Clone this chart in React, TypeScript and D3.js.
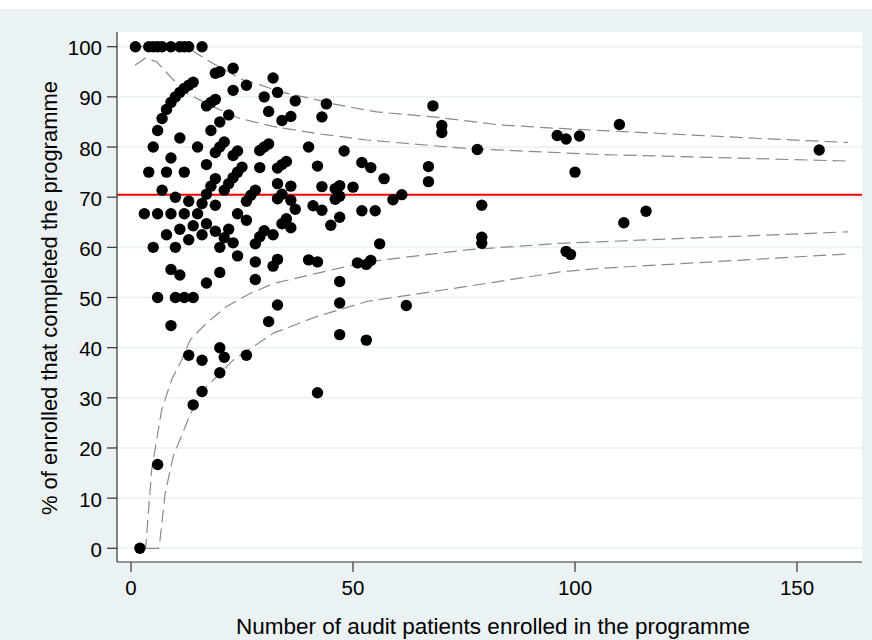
import React from "react";
import * as d3 from "d3";

// Programme size (n enrolled) and % completed
const enrolled: number[] = [
  1, 4, 5, 6, 7, 9, 11, 12, 13, 16,
  2, 6,
  3, 4, 5, 6, 7, 8, 9, 10, 11, 12, 13, 14,
  19, 20, 23, 17, 18, 19,
  23, 26, 22, 20, 18,
  17, 19, 20, 21, 23, 24,
  21, 22, 23, 24, 25,
  16, 17, 18, 19,
  28, 27, 26, 29,
  29, 30, 31,
  30, 31, 32, 33, 34, 36, 37,
  40, 44, 43, 42, 48,
  33, 34, 35,
  33, 34, 36, 33,
  43, 46, 47, 50, 46, 47,
  11, 15, 9, 8, 12, 7, 10, 13,
  6, 9, 12, 15,
  19, 14, 11, 8, 13, 16, 17, 19, 20, 22, 21, 23, 24,
  5, 10, 9, 11, 17, 20,
  6, 10, 12, 14,
  9, 13, 16, 20, 21, 26, 20,
  14, 16,
  24, 26,
  28, 29, 30, 32,
  28, 28, 32, 33, 33, 31,
  36, 37,
  34, 35, 36,
  40, 42,
  41, 43, 45, 47,
  47, 47, 47,
  51, 52,
  42,
  68, 70, 70,
  96, 98, 101, 78, 100,
  52, 54, 57, 67, 67,
  59, 61,
  55,
  79, 56, 53, 54,
  79, 79, 98, 99,
  53, 62,
  110, 155, 116, 111,
];

const completedPct: number[] = [
  100, 100, 100, 100, 100, 100, 100, 100, 100, 100,
  0, 16.7,
  66.7, 75, 80, 83.3, 85.7, 87.5, 88.9, 90, 90.9, 91.7, 92.3, 92.9,
  94.7, 95, 95.7, 88.2, 88.9, 89.5,
  91.3, 92.3, 86.4, 85, 83.3,
  76.5, 78.9, 80, 81, 78.3, 79.2,
  71.4, 72.7, 73.9, 75, 76,
  68.75, 70.6, 72.2, 73.7,
  71.4, 70.4, 69.2, 75.9,
  79.3, 80, 80.6,
  90, 87.1, 93.75, 90.9, 85.3, 86.1, 89.2,
  80, 88.6, 86.0, 76.2, 79.2,
  75.8, 76.5, 77.1,
  72.7, 70.6, 72.2, 69.7,
  72.1, 71.7, 72.3, 72, 69.6, 70.2,
  81.8, 80, 77.8, 75, 75, 71.4, 70, 69.2,
  66.7, 66.7, 66.7, 66.7,
  68.4, 64.3, 63.6, 62.5, 61.5, 62.5, 64.7, 63.2, 60, 63.6, 61.9, 60.9, 58.3,
  60, 60, 55.6, 54.5, 52.9, 55,
  50, 50, 50, 50,
  44.4, 38.5, 37.5, 40, 38.1, 38.5, 35,
  28.6, 31.25,
  66.7, 65.4,
  60.7, 62.1, 63.3, 62.5,
  57.1, 53.6, 56.25, 57.6, 48.5, 45.2,
  69.4, 67.6,
  64.7, 65.7, 63.9,
  57.5, 57.1,
  68.3, 67.4, 64.4, 66.0,
  53.2, 48.9, 42.6,
  56.9, 67.3,
  31.0,
  88.2, 84.3, 82.9,
  82.3, 81.6, 82.2, 79.5, 75,
  76.9, 75.9, 73.7, 76.1, 73.1,
  69.5, 70.5,
  67.3,
  68.4, 60.7, 56.6, 57.4,
  62, 60.8, 59.2, 58.6,
  41.5, 48.4,
  84.5, 79.4, 67.2, 64.9,
];

// Overall mean completion
const overallPct = 70.5;

// Control limits
const upperOuterX = [1, 12, 13.3, 17.8, 25.2, 29.1, 33.6, 41, 45.5, 55.3, 68, 83.1, 96.6, 119.1, 141.7, 161.5];
const upperOuterY = [100, 100, 99.5, 97.0, 93.4, 92.4, 91.0, 89.6, 88.6, 87.0, 86.0, 84.4, 83.7, 82.7, 81.7, 80.9];
const upperInnerX = [0.9, 3.2, 5.8, 9.2, 12.5, 15.5, 19.3, 24.5, 32, 41.8, 53, 75.6, 105.6, 119.1, 161.5];
const upperInnerY = [96.3, 97.7, 97.0, 93.7, 90.7, 89.4, 87.7, 85.7, 84.1, 82.7, 81.4, 79.7, 78.5, 78.2, 77.2];
const lowerInnerX = [2.5, 3.3, 4.65, 6.9, 9.2, 11.4, 13.3, 17.0, 21.5, 26.8, 32.1, 41.8, 53.1, 75.6, 96.6, 105.6, 161.5];
const lowerInnerY = [0, 0, 15.6, 27.6, 33.7, 37.5, 41.5, 44.9, 48.2, 50.8, 52.8, 54.8, 57.1, 59.5, 60.8, 61.1, 63.1];
const lowerOuterX = [3.5, 6.2, 6.5, 7.7, 9.5, 12.5, 15.5, 19.3, 23, 25.3, 32.1, 41.8, 53.1, 75.6, 96.6, 105.6, 161.5];
const lowerOuterY = [0, 0, 1.3, 11, 18.3, 24.9, 30.9, 34.2, 37.5, 38.9, 42.9, 46.2, 49.2, 52.2, 55.1, 55.8, 58.7];

const yTicks = [0, 10, 20, 30, 40, 50, 60, 70, 80, 90, 100];
const xTicks = [0, 50, 100, 150];

const xTitle = "Number of audit patients enrolled in the programme";
const yTitle = "% of enrolled that completed the programme";

const W = 872;
const H = 640;
const plotL = 117;
const plotR = 862;
const plotT = 32;
const plotB = 562;
const BG = "#eaf2f3";
const FONT = "'Liberation Sans', Arial, Helvetica, sans-serif";

export default function App() {
  const x = d3.scaleLinear().domain([0, 150]).range([131, 797]);
  const y = d3.scaleLinear().domain([0, 100]).range([548.3, 46.7]);

  const line = d3
    .line<[number, number]>()
    .x((d) => x(d[0]))
    .y((d) => y(d[1]));

  const limits = [
    [upperOuterX, upperOuterY],
    [upperInnerX, upperInnerY],
    [lowerInnerX, lowerInnerY],
    [lowerOuterX, lowerOuterY],
  ].map(([xs, ys]) => xs.map((v, i) => [v, ys[i]] as [number, number]));

  const points = enrolled.map((n, i) => ({ n, p: completedPct[i] }));

  return (
    <div style={{ position: "absolute", left: 0, top: 0 }}>
      <svg width={W} height={H} style={{ display: "block" }}>
        <rect x={0} y={0} width={W} height={H} fill="#ffffff" />
        <rect x={0} y={9} width={W} height={H - 9} fill={BG} />
        <rect x={plotL} y={plotT} width={plotR - plotL} height={plotB - plotT} fill="#ffffff" />
        {yTicks.map((t) => (
          <line key={"g" + t} x1={plotL} x2={plotR} y1={y(t)} y2={y(t)} stroke={BG} strokeWidth={1.6} />
        ))}
        {limits.map((pts, i) => (
          <path
            key={"l" + i}
            d={line(pts) || ""}
            fill="none"
            stroke="#8a8a8a"
            strokeWidth={1.2}
            strokeDasharray="13,6"
          />
        ))}
        <line x1={plotL} x2={plotR} y1={y(overallPct)} y2={y(overallPct)} stroke="#ff0000" strokeWidth={2} />
        {points.map((d, i) => (
          <circle key={"p" + i} cx={x(d.n)} cy={y(d.p)} r={5.7} fill="#000000" />
        ))}
        {/* axes */}
        <line x1={plotL} x2={plotL} y1={plotT} y2={plotB} stroke="#333333" strokeWidth={1.2} />
        <line x1={plotL} x2={plotR} y1={plotB} y2={plotB} stroke="#333333" strokeWidth={1.2} />
        {yTicks.map((t) => (
          <g key={"yt" + t}>
            <line x1={plotL - 10} x2={plotL} y1={y(t)} y2={y(t)} stroke="#333333" strokeWidth={1.2} />
            <text x={102} y={y(t) + 8.5} textAnchor="end" fontFamily={FONT} fontSize={20.5} fill="#000">
              {t}
            </text>
          </g>
        ))}
        {xTicks.map((t) => (
          <g key={"xt" + t}>
            <line x1={x(t)} x2={x(t)} y1={plotB} y2={plotB + 10} stroke="#333333" strokeWidth={1.2} />
            <text x={x(t)} y={595} textAnchor="middle" fontFamily={FONT} fontSize={20.5} fill="#000">
              {t}
            </text>
          </g>
        ))}
        <text x={493} y={634} textAnchor="middle" fontFamily={FONT} fontSize={22.5} fill="#000">
          {xTitle}
        </text>
        <text
          transform={`translate(57, 298) rotate(-90)`}
          textAnchor="middle"
          fontFamily={FONT}
          fontSize={22}
          fill="#000"
        >
          {yTitle}
        </text>
      </svg>
    </div>
  );
}
